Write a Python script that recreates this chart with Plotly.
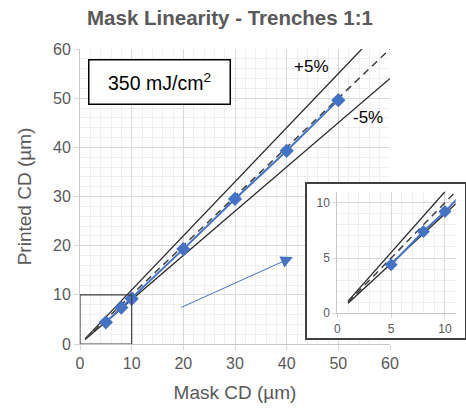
import plotly.graph_objects as go

# ---- data ----
mask_cd = [5, 8, 10, 20, 30, 40, 50]
printed_cd = [4.4, 7.4, 9.2, 19.3, 29.5, 39.3, 49.6]

ref_x = [1, 60]
unity_y = [1, 60]
upper_y = [1.1, 66]     # +5% guide
lower_y = [0.9, 54]     # -5% guide

main_ticks = [0, 10, 20, 30, 40, 50, 60]
inset_ticks = [0, 5, 10]

FONT = "Liberation Sans, Arial, sans-serif"
GRAY = "#595959"
BLUE = "#4472C4"
GRID = "#d9d9d9"
MINOR = "#efefef"

fig = go.Figure()


def add_set(xa, ya, msize):
    fig.add_trace(go.Scatter(x=ref_x, y=upper_y, mode="lines", xaxis=xa, yaxis=ya,
                             line=dict(color="#262626", width=1.3), showlegend=False, hoverinfo="skip"))
    fig.add_trace(go.Scatter(x=ref_x, y=lower_y, mode="lines", xaxis=xa, yaxis=ya,
                             line=dict(color="#262626", width=1.3), showlegend=False, hoverinfo="skip"))
    fig.add_trace(go.Scatter(x=ref_x, y=unity_y, mode="lines", xaxis=xa, yaxis=ya,
                             line=dict(color="#404040", width=1.5, dash="7px,5px"),
                             showlegend=False, hoverinfo="skip"))
    fig.add_trace(go.Scatter(x=mask_cd, y=printed_cd, mode="lines+markers", xaxis=xa, yaxis=ya,
                             line=dict(color=BLUE, width=2),
                             marker=dict(symbol="diamond", size=msize, color=BLUE),
                             showlegend=False))


add_set("x", "y", 11)
# invisible trace for the inset frame subplot
fig.add_trace(go.Scatter(x=[], y=[], xaxis="x2", yaxis="y2", showlegend=False))
add_set("x3", "y3", 10)

axis_common = dict(
    showgrid=True, gridcolor=GRID, gridwidth=1, zeroline=False,
    ticks="outside", ticklen=5, tickcolor=GRID,
    showline=True, linecolor="#c8c8c8", linewidth=1,
    fixedrange=True, automargin=False,
)

fig.update_layout(
    width=466, height=408,
    margin=dict(l=80, r=0, t=49, b=64, pad=0, autoexpand=False),
    showlegend=False,
    paper_bgcolor="white", plot_bgcolor="white",
    font=dict(family=FONT, color=GRAY, size=16),
    title=dict(text="<b>Mask Linearity - Trenches 1:1</b>", x=0.4936, xref="container",
               y=1 - 18 / 408, yref="container", xanchor="center", yanchor="middle",
               font=dict(size=20.5, color=GRAY, family=FONT)),
    xaxis=dict(domain=[0, 0.8031], range=[0, 60], tickvals=main_ticks,
               minor=dict(dtick=2, showgrid=True, gridcolor=MINOR, ticks=""),
               tickfont=dict(size=16, color=GRAY),
               title=dict(text="Mask CD (µm)", font=dict(size=19, color=GRAY), standoff=14),
               anchor="y", **axis_common),
    yaxis=dict(domain=[0, 1], range=[0, 60], tickvals=main_ticks,
               minor=dict(dtick=2, showgrid=True, gridcolor=MINOR, ticks=""),
               tickfont=dict(size=16, color=GRAY),
               title=dict(text="Printed CD (µm)", font=dict(size=19, color=GRAY), standoff=16),
               anchor="x", **axis_common),
    xaxis2=dict(domain=[0.5873, 0.9974], range=[0, 1], anchor="y2", showgrid=False,
                zeroline=False, showticklabels=False, ticks="", showline=True, mirror=True,
                linecolor="#404040", linewidth=1.5, fixedrange=True),
    yaxis2=dict(domain=[0.0193, 0.5424], range=[0, 1], anchor="x2", showgrid=False,
                zeroline=False, showticklabels=False, ticks="", showline=True, mirror=True,
                linecolor="#404040", linewidth=1.5, fixedrange=True),
    xaxis3=dict(domain=[0.6666, 0.9733], range=[0, 11], tickvals=inset_ticks,
                minor=dict(dtick=1, showgrid=True, gridcolor=MINOR, ticks=""),
                tickfont=dict(size=12, color=GRAY), anchor="y3",
                **{**axis_common, "ticklen": 4}),
    yaxis3=dict(domain=[0.1041, 0.5163], range=[0, 11], tickvals=inset_ticks,
                minor=dict(dtick=1, showgrid=True, gridcolor=MINOR, ticks=""),
                tickfont=dict(size=12, color=GRAY), anchor="x3",
                **{**axis_common, "ticklen": 4}),
)

# zoom region box on main chart
fig.add_shape(type="rect", xref="x", yref="y", x0=0, y0=0, x1=10, y1=10,
              line=dict(color="#404040", width=1.2), fillcolor="rgba(0,0,0,0)")

# arrow pointing to inset
fig.add_annotation(x=41.2, y=17.7, ax=19.3, ay=7.3, xref="x", yref="y", axref="x", ayref="y",
                   text="", showarrow=True, arrowhead=2, arrowsize=2.4, arrowwidth=1,
                   arrowcolor=BLUE)

# energy label box
fig.add_annotation(x=15.4, y=53.2, xref="x", yref="y", text="350 mJ/cm<sup>2</sup>",
                   showarrow=False, font=dict(size=19.5, color="black", family=FONT),
                   bgcolor="white", bordercolor="black", borderwidth=1.5, borderpad=0,
                   width=140, height=43, align="center", valign="middle")

fig.add_annotation(x=44.9, y=56.4, xref="x", yref="y", text="+5%", showarrow=False,
                   font=dict(size=17, color="black", family=FONT))
fig.add_annotation(x=55.8, y=46.0, xref="x", yref="y", text="-5%", showarrow=False,
                   font=dict(size=17, color="black", family=FONT))

fig.write_html("out.html")
